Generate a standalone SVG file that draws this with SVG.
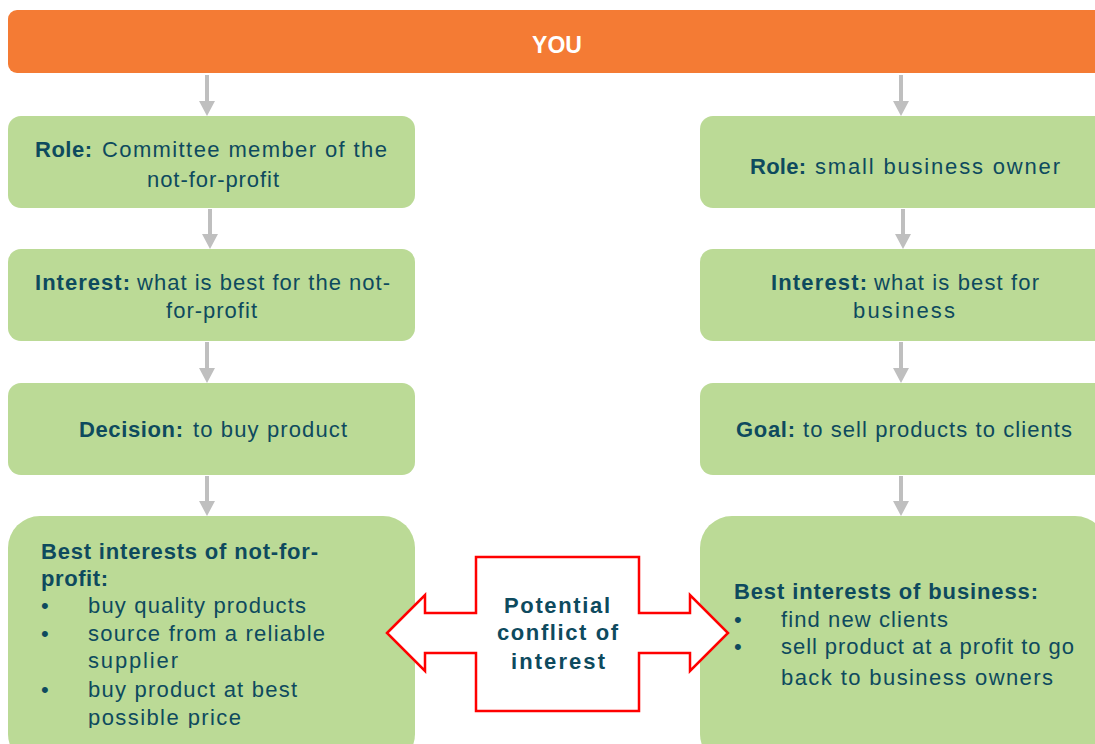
<svg xmlns="http://www.w3.org/2000/svg" width="1095" height="744" viewBox="0 0 1095 744">
<style>
  .box { fill: #BBDA96; }
  .t { font-family: "Liberation Sans", Arial, sans-serif; font-size: 22px; fill: #0E4A5E; }
  .b { font-weight: bold; }
  .conn { stroke: #BFBFBF; stroke-width: 4; fill: none; }
  .pc { font-family: "Liberation Sans", Arial, sans-serif; font-size: 22px; font-weight: bold; fill: #0E4A5E; }
</style>
<defs>
  <marker id="head" markerUnits="userSpaceOnUse" markerWidth="15" markerHeight="16" refX="0" refY="8" orient="auto">
    <path d="M0,0 L15,8 L0,16 z" fill="#BFBFBF"/>
  </marker>
  <clipPath id="clipL"><rect x="0" y="500" width="500" height="228"/></clipPath>
</defs>
<rect width="1095" height="744" fill="#FFFFFF"/>

<g id="you">
  <rect x="8" y="10" width="1099" height="63" rx="9" fill="#F47B34"/>
  <text x="557" y="53" text-anchor="middle" font-family="Liberation Sans, Arial, sans-serif" font-size="23" font-weight="bold" fill="#FFFFFF">YOU</text>
</g>

<g id="connectors">
  <path class="conn" d="M207,75 V101" marker-end="url(#head)"/>
  <path class="conn" d="M901,75 V101" marker-end="url(#head)"/>
  <path class="conn" d="M210,209 V234" marker-end="url(#head)"/>
  <path class="conn" d="M207,342 V368" marker-end="url(#head)"/>
  <path class="conn" d="M207,476 V501" marker-end="url(#head)"/>
  <path class="conn" d="M903,209 V234" marker-end="url(#head)"/>
  <path class="conn" d="M901,342 V368" marker-end="url(#head)"/>
  <path class="conn" d="M901,476 V501" marker-end="url(#head)"/>
</g>

<g id="role-left">
  <rect class="box" x="8" y="116" width="407" height="92" rx="13"/>
  <text class="t"><tspan class="b" x="35" y="157" textLength="57">Role:</tspan><tspan x="102" y="157" textLength="285">Committee member of the</tspan></text>
  <text class="t"><tspan x="147" y="187" textLength="132">not-for-profit</tspan></text>
</g>

<g id="interest-left">
  <rect class="box" x="8" y="249" width="407" height="92" rx="13"/>
  <text class="t"><tspan class="b" x="35" y="290" textLength="95">Interest:</tspan><tspan x="137" y="290" textLength="253">what is best for the not-</tspan></text>
  <text class="t"><tspan x="166" y="318" textLength="91">for-profit</tspan></text>
</g>

<g id="decision-left">
  <rect class="box" x="8" y="383" width="407" height="92" rx="13"/>
  <text class="t"><tspan class="b" x="79" y="437" textLength="104">Decision:</tspan><tspan x="193" y="437" textLength="154">to buy product</tspan></text>
</g>

<g id="best-left">
  <rect class="box" x="8" y="516" width="407" height="250" rx="32"/>
  <g clip-path="url(#clipL)">
    <text class="t b"><tspan x="41" y="559" textLength="277">Best interests of not-for-</tspan></text>
    <text class="t b"><tspan x="41" y="586" textLength="67">profit:</tspan></text>
    <text class="t"><tspan x="41" y="613">•</tspan><tspan x="88" y="613" textLength="218">buy quality products</tspan></text>
    <text class="t"><tspan x="41" y="641">•</tspan><tspan x="88" y="641" textLength="237">source from a reliable</tspan></text>
    <text class="t"><tspan x="88" y="668" textLength="90">supplier</tspan></text>
    <text class="t"><tspan x="41" y="697">•</tspan><tspan x="88" y="697" textLength="209">buy product at best</tspan></text>
    <text class="t"><tspan x="88" y="725" textLength="153">possible price</tspan></text>
  </g>
</g>

<g id="role-right">
  <rect class="box" x="700" y="116" width="407" height="92" rx="13"/>
  <text class="t"><tspan class="b" x="750" y="174" textLength="56">Role:</tspan><tspan x="815" y="174" textLength="245">small business owner</tspan></text>
</g>

<g id="interest-right">
  <rect class="box" x="700" y="249" width="407" height="92" rx="13"/>
  <text class="t"><tspan class="b" x="771" y="290" textLength="96">Interest:</tspan><tspan x="874" y="290" textLength="165">what is best for</tspan></text>
  <text class="t"><tspan x="853" y="318" textLength="102">business</tspan></text>
</g>

<g id="goal-right">
  <rect class="box" x="700" y="383" width="407" height="92" rx="13"/>
  <text class="t"><tspan class="b" x="736" y="437" textLength="59">Goal:</tspan><tspan x="803" y="437" textLength="269">to sell products to clients</tspan></text>
</g>

<g id="best-right">
  <rect class="box" x="700" y="516" width="407" height="250" rx="32"/>
  <text class="t b"><tspan x="734" y="599" textLength="304">Best interests of business:</tspan></text>
  <text class="t"><tspan x="734" y="627">•</tspan><tspan x="781" y="627" textLength="167">find new clients</tspan></text>
  <text class="t"><tspan x="734" y="654">•</tspan><tspan x="781" y="654" textLength="293">sell product at a profit to go</tspan></text>
  <text class="t"><tspan x="781" y="685" textLength="272">back to business owners</tspan></text>
</g>

<g id="conflict">
  <polygon points="387,633 425,595 425,613 476,613 476,557 639,557 639,613 690,613 690,595 728,633 690,671 690,653 639,653 639,711 476,711 476,653 425,653 425,671" fill="#FFFFFF" stroke="#FF0000" stroke-width="2.5" stroke-linejoin="miter"/>
  <text class="pc"><tspan x="504" y="613" textLength="106">Potential</tspan></text>
  <text class="pc"><tspan x="497" y="640" textLength="121">conflict of</tspan></text>
  <text class="pc"><tspan x="511" y="669" textLength="94">interest</tspan></text>
</g>
</svg>
